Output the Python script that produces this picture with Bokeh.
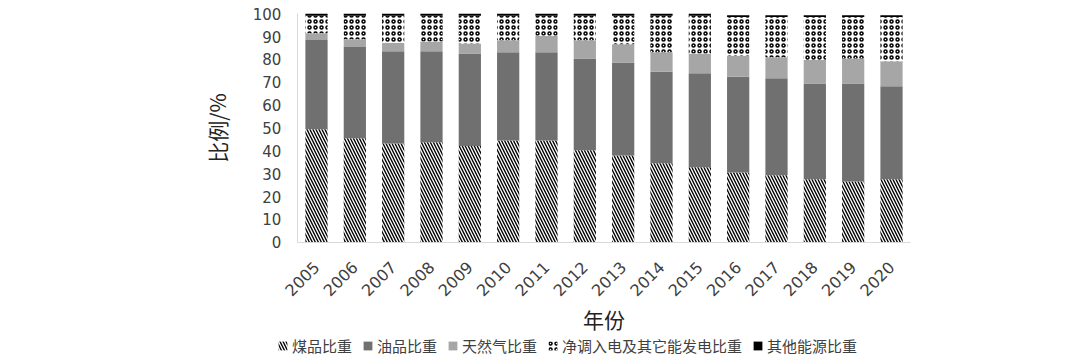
from math import pi
from bokeh.plotting import figure
from bokeh.models import ColumnDataSource, Legend, LegendItem, Range1d
from bokeh.embed import file_html
from bokeh.resources import INLINE

years = [2005, 2006, 2007, 2008, 2009, 2010, 2011, 2012,
         2013, 2014, 2015, 2016, 2017, 2018, 2019, 2020]
coal = [49.5, 45.5, 43.2, 43.8, 42.1, 44.5, 44.5, 40.3, 38.0, 34.6, 32.8, 30.5, 29.3, 27.6, 26.6, 27.6]
oil = [39.0, 40.0, 40.4, 39.8, 40.5, 38.7, 38.7, 40.1, 40.7, 40.0, 41.2, 41.9, 42.5, 41.9, 42.9, 40.7]
gas = [3.0, 3.4, 3.7, 4.3, 4.4, 5.2, 7.2, 8.0, 8.0, 8.6, 8.6, 9.2, 9.2, 10.3, 10.9, 10.9]
net = [7.7, 10.3, 11.9, 11.3, 12.2, 10.8, 8.8, 10.8, 12.5, 16.0, 16.6, 17.0, 17.6, 18.8, 18.2, 19.4]
other = [0.8] * 16
series_labels = ["煤品比重", "油品比重", "天然气比重", "净调入电及其它能发电比重", "其他能源比重"]
y_ticks = [0, 10, 20, 30, 40, 50, 60, 70, 80, 90, 100]

fills = ["white", "#707070", "#a6a6a6", "white", "black"]
hatches = ["left_diagonal_line", " ", " ", "ring", " "]
hscales = [6, 12, 12, 6, 12]
hweights = [1.4, 1, 1, 1.5, 1]

src = ColumnDataSource(dict(year=years, coal=coal, oil=oil, gas=gas, net=net, other=other))

# frame covers the whole canvas; axes are pinned at fixed locations
px_per_year = 575 / 15.0
x0 = years[0] - 316 / px_per_year
px_per_unit = (241.7 - 13.3) / 100.0
p = figure(x_range=Range1d(x0, x0 + 1080 / px_per_year),
           y_range=Range1d(-(359 - 241.7) / px_per_unit, 100 + 13.3 / px_per_unit),
           width=1080, height=359, output_backend="svg", toolbar_location=None,
           min_border=0)

stackers = ["coal", "oil", "gas", "net", "other"]
rs = p.vbar_stack(stackers, x="year", width=0.58, source=src,
                  fill_color=fills, line_color=None,
                  hatch_pattern=hatches, hatch_color="black",
                  hatch_scale=hscales, hatch_weight=hweights)

p.xgrid.visible = False
p.ygrid.visible = False
p.outline_line_color = None

for ax in (p.xaxis, p.yaxis):
    ax.major_tick_line_color = None
    ax.minor_tick_line_color = None
    ax.axis_line_color = "#d9d9d9"
    ax.major_label_text_font = "DejaVu Sans"
    ax.major_label_text_color = "#404040"
    ax.axis_label_text_font = "Noto Sans CJK SC"
    ax.axis_label_text_font_size = "21px"
    ax.axis_label_text_font_style = "normal"
    ax.axis_label_text_color = "#222222"

p.yaxis.fixed_location = years[0] - 0.5
p.yaxis.bounds = (0, 100)
p.yaxis.major_label_text_font_size = "15px"
p.yaxis.ticker = y_ticks
p.yaxis.major_label_standoff = 10
p.yaxis.axis_label = "比例/%"
p.yaxis.axis_label_standoff = 18

p.xaxis.fixed_location = 0
p.xaxis.bounds = (years[0] - 0.5, years[-1] + 0.5)
p.xaxis.ticker = years
p.xaxis.major_label_text_font_size = "16px"
p.xaxis.major_label_orientation = pi / 4
p.xaxis.major_label_standoff = 16
p.xaxis.axis_label = "年份"
p.xaxis.axis_label_standoff = -1

items = [LegendItem(label=lab, renderers=[r]) for lab, r in zip(series_labels, rs)]
legend = Legend(items=items, orientation="horizontal", location=(277, 3),
                spacing=10, label_standoff=4, padding=0, margin=0,
                glyph_width=11, glyph_height=11, label_height=16,
                label_text_font="Noto Sans CJK SC", label_text_font_size="15px",
                label_text_color="#404040", background_fill_alpha=0,
                border_line_color=None)
p.add_layout(legend, "center")

open("out.html", "w").write(file_html(p, INLINE))
